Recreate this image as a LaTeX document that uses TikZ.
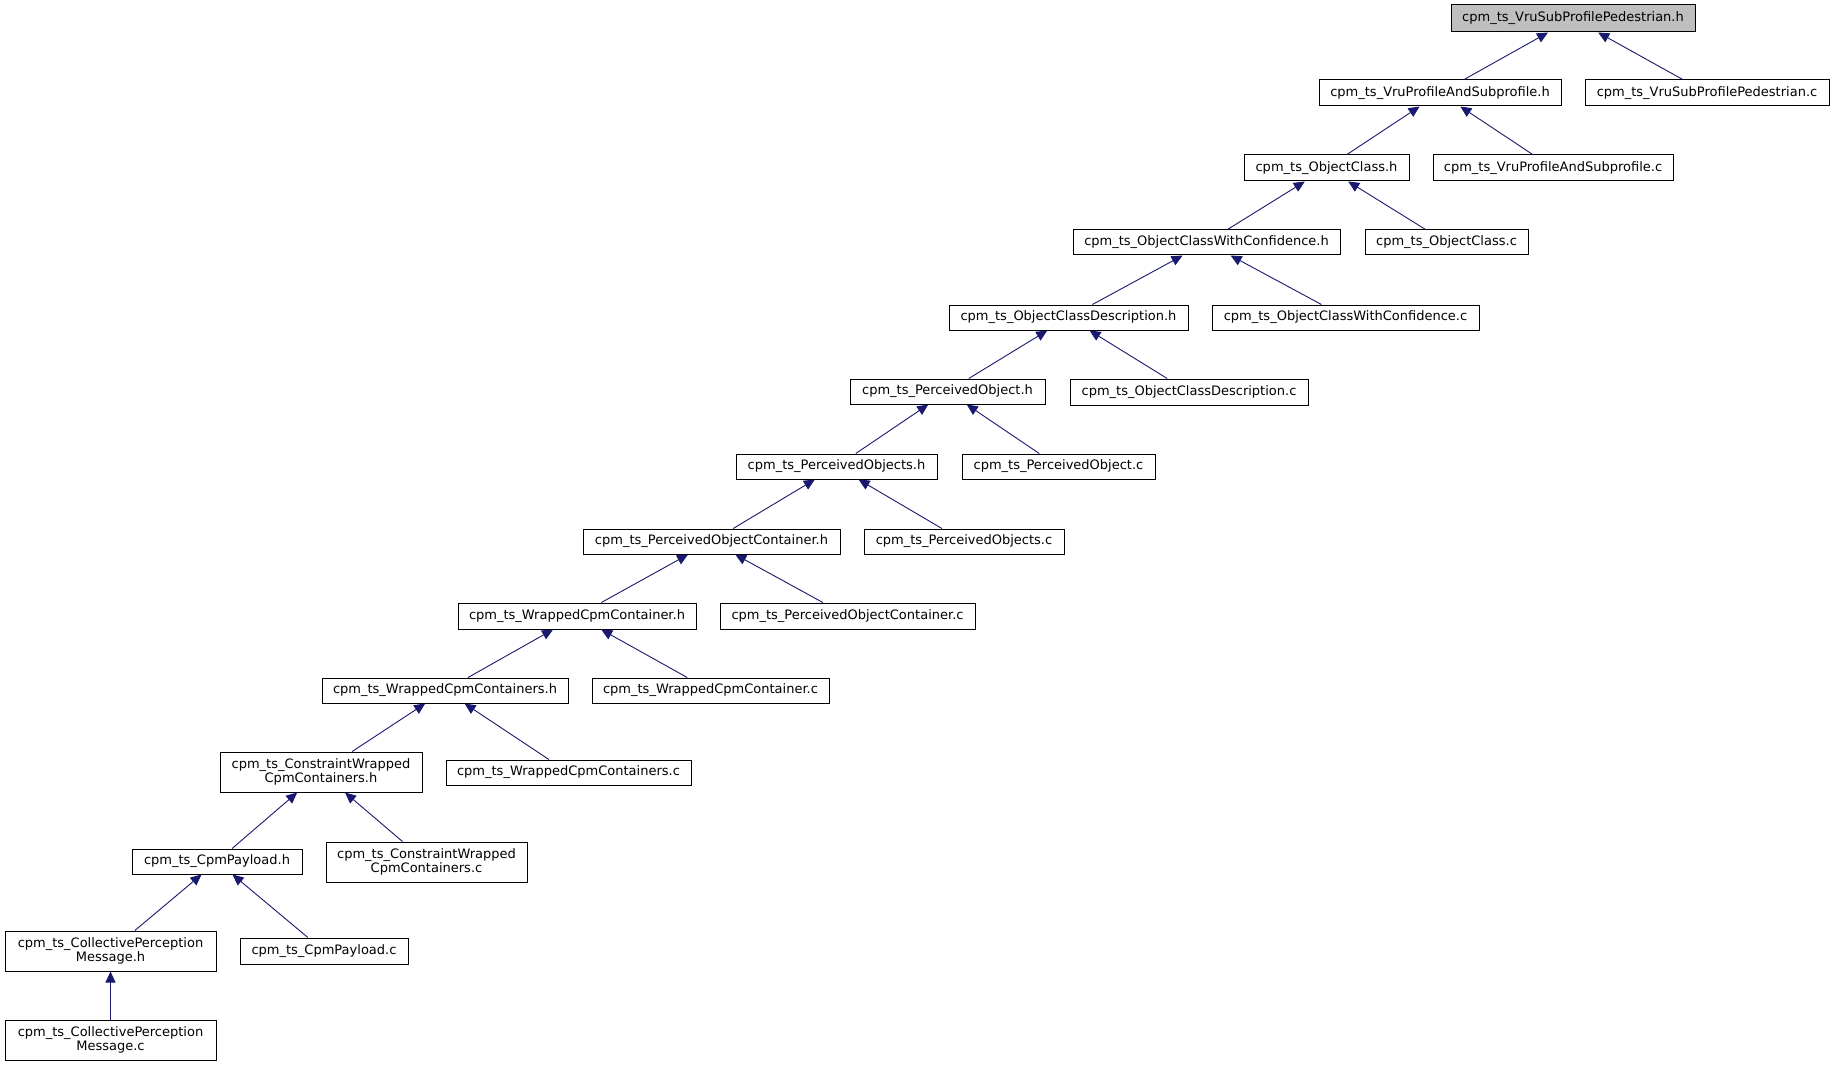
\documentclass[tikz,border=0pt]{standalone}
\usepackage{fontspec}
\setmainfont{DejaVu Sans}
\usepackage{tikz}
\usetikzlibrary{arrows.meta}
\usepackage{xcolor}
\definecolor{edgeblue}{HTML}{191970}
\definecolor{rootgray}{HTML}{BFBFBF}

\begin{document}
\begin{tikzpicture}[x=1pt, y=-1pt,
    box/.style={draw=black, line width=1pt, fill=white, inner sep=0pt,
                minimum height=26pt, align=center,
                font=\fontsize{13}{14}\selectfont},
    edge/.style={-{Triangle[length=11pt,width=10pt]}, edgeblue, line width=0.9pt}]
    \useasboundingbox[fill=white] (0,0) rectangle (1833,1067);

    % root header
    \node[box, fill=rootgray, minimum width=244pt, minimum height=27pt] (top) at (1573,18.5) {cpm\_ts\_VruSubProfilePedestrian.h};

    % level 1
    \node[box, minimum width=242pt] (vruph) at (1440,93) {cpm\_ts\_VruProfileAndSubprofile.h};
    \node[box, minimum width=244pt] (vruspc) at (1707,93) {cpm\_ts\_VruSubProfilePedestrian.c};

    % level 2
    \node[box, minimum width=165pt] (och) at (1326.5,168) {cpm\_ts\_ObjectClass.h};
    \node[box, minimum width=240pt] (vrupc) at (1553,168) {cpm\_ts\_VruProfileAndSubprofile.c};

    % level 3
    \node[box, minimum width=267pt, minimum height=25pt] (ocwch) at (1206.5,242.5) {cpm\_ts\_ObjectClassWithConfidence.h};
    \node[box, minimum width=163pt, minimum height=25pt] (occ) at (1446.5,242.5) {cpm\_ts\_ObjectClass.c};

    % level 4
    \node[box, minimum width=239pt, minimum height=25pt] (ocdh) at (1068.5,317.5) {cpm\_ts\_ObjectClassDescription.h};
    \node[box, minimum width=267pt, minimum height=25pt] (ocwcc) at (1345.5,317.5) {cpm\_ts\_ObjectClassWithConfidence.c};

    % level 5
    \node[box, minimum width=195pt, minimum height=25pt] (poh) at (947.5,391.5) {cpm\_ts\_PerceivedObject.h};
    \node[box, minimum width=238pt] (ocdc) at (1189,392) {cpm\_ts\_ObjectClassDescription.c};

    % level 6
    \node[box, minimum width=201pt, minimum height=25pt] (posh) at (836.5,466.5) {cpm\_ts\_PerceivedObjects.h};
    \node[box, minimum width=193pt, minimum height=25pt] (poc) at (1058.5,466.5) {cpm\_ts\_PerceivedObject.c};

    % level 7
    \node[box, minimum width=257pt, minimum height=25pt] (poch) at (711.5,541.5) {cpm\_ts\_PerceivedObjectContainer.h};
    \node[box, minimum width=200pt, minimum height=25pt] (posc) at (964,541.5) {cpm\_ts\_PerceivedObjects.c};

    % level 8
    \node[box, minimum width=238pt] (wcch) at (577,616) {cpm\_ts\_WrappedCpmContainer.h};
    \node[box, minimum width=255pt] (pocc) at (847.5,616) {cpm\_ts\_PerceivedObjectContainer.c};

    % level 9
    \node[box, minimum width=246pt, minimum height=25pt] (wccsh) at (445,690.5) {cpm\_ts\_WrappedCpmContainers.h};
    \node[box, minimum width=237pt, minimum height=25pt] (wccc) at (710.5,690.5) {cpm\_ts\_WrappedCpmContainer.c};

    % level 10
    \node[box, minimum width=202pt, minimum height=40pt] (cwh) at (321,772) {cpm\_ts\_ConstraintWrapped\\CpmContainers.h};
    \node[box, minimum width=245pt, minimum height=25pt] (wccsc) at (568.5,772.5) {cpm\_ts\_WrappedCpmContainers.c};

    % level 11
    \node[box, minimum width=170pt, minimum height=25pt] (cph) at (217,861.5) {cpm\_ts\_CpmPayload.h};
    \node[box, minimum width=201pt, minimum height=40pt] (cwc) at (426.5,862) {cpm\_ts\_ConstraintWrapped\\CpmContainers.c};

    % level 12
    \node[box, minimum width=211pt, minimum height=40pt] (cpmh) at (110.5,951) {cpm\_ts\_CollectivePerception\\Message.h};
    \node[box, minimum width=168pt] (cpc) at (324,951) {cpm\_ts\_CpmPayload.c};

    % level 13
    \node[box, minimum width=211pt, minimum height=40pt] (cpmc) at (110.5,1040) {cpm\_ts\_CollectivePerception\\Message.c};

    % include edges (arrow at the included file)
    \draw[edge] (vruph) -- (top);
    \draw[edge] (vruspc) -- (top);
    \draw[edge] (och) -- (vruph);
    \draw[edge] (vrupc) -- (vruph);
    \draw[edge] (ocwch) -- (och);
    \draw[edge] (occ) -- (och);
    \draw[edge] (ocdh) -- (ocwch);
    \draw[edge] (ocwcc) -- (ocwch);
    \draw[edge] (poh) -- (ocdh);
    \draw[edge] (ocdc) -- (ocdh);
    \draw[edge] (posh) -- (poh);
    \draw[edge] (poc) -- (poh);
    \draw[edge] (poch) -- (posh);
    \draw[edge] (posc) -- (posh);
    \draw[edge] (wcch) -- (poch);
    \draw[edge] (pocc) -- (poch);
    \draw[edge] (wccsh) -- (wcch);
    \draw[edge] (wccc) -- (wcch);
    \draw[edge] (cwh) -- (wccsh);
    \draw[edge] (wccsc) -- (wccsh);
    \draw[edge] (cph) -- (cwh);
    \draw[edge] (cwc) -- (cwh);
    \draw[edge] (cpmh) -- (cph);
    \draw[edge] (cpc) -- (cph);
    \draw[edge] (cpmc) -- (cpmh);
\end{tikzpicture}
\end{document}
